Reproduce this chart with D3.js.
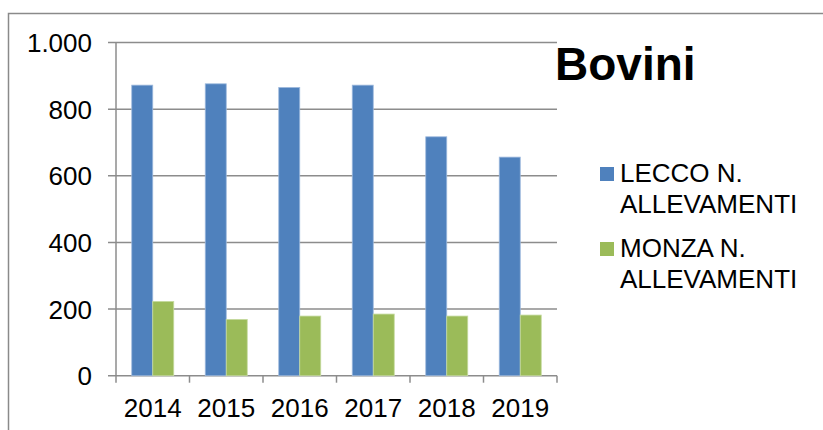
<!DOCTYPE html>
<html><head><meta charset="utf-8">
<script src="https://cdn.jsdelivr.net/npm/d3@7"></script>
<style>html,body{margin:0;padding:0;background:#fff;}svg{display:block;}</style>
</head><body>
<script>
const categories = ["2014","2015","2016","2017","2018","2019"];
const lecco = [872, 876, 865, 872, 717, 656];
const monza = [223, 169, 179, 185, 179, 182];
const seriesNames = ["LECCO N. ALLEVAMENTI","MONZA N. ALLEVAMENTI"];
const seriesLines = [["LECCO N.","ALLEVAMENTI"],["MONZA N.","ALLEVAMENTI"]];
const yTicks = [0,200,400,600,800,1000];
const title = "Bovini";

const W = 823, H = 430;
const colors = ["#4F81BD","#9BBB59"];
const edge = ["#9DB9DD","#C6DBA0"];
const font = "'Liberation Sans', Arial, sans-serif";

const svg = d3.select("body").append("svg").attr("width", W).attr("height", H);
svg.append("rect").attr("width", W).attr("height", H).attr("fill", "#fff");

// outer border (top & left visible)
svg.append("path").attr("d", `M8.5,${H} L8.5,13.5 L${W},13.5`)
  .attr("fill","none").attr("stroke","#8a8a8a").attr("stroke-width",1.5);

const x0 = 116, x1 = 557, yTop = 42.5, yBot = 375.7;
const x = d3.scaleBand().domain(categories).range([x0, x1]).paddingInner(0).paddingOuter(0);
const y = d3.scaleLinear().domain([0, 1000]).range([yBot, yTop]);
const fmt = v => d3.format(",")(v).replace(/,/g, ".");

// gridlines
svg.append("g").selectAll("line").data(yTicks).join("line")
  .attr("x1", x0 - 8).attr("x2", x1).attr("y1", d => y(d)).attr("y2", d => y(d))
  .attr("stroke", "#8c8c8c").attr("stroke-width", 1.5);

// y labels
const yAxis = d3.axisLeft(y).tickValues(yTicks).tickFormat(fmt).tickSize(0).tickPadding(0);
const ga = svg.append("g").attr("transform", `translate(${x0 - 24},0)`).call(yAxis);
ga.select(".domain").remove();
ga.selectAll("text").attr("font-family", font).attr("font-size", 26).attr("fill", "#000").attr("dy", "0.35em");

// bars
const bw = x.bandwidth() / 3.5;
const off = (x.bandwidth() - 2 * bw) / 2;
[lecco, monza].forEach((vals, si) => {
  svg.append("g").selectAll("rect").data(vals).join("rect")
    .attr("x", (d, i) => x(categories[i]) + off + si * bw)
    .attr("y", d => y(d))
    .attr("width", bw)
    .attr("height", d => yBot - y(d))
    .attr("fill", colors[si])
    .attr("stroke", edge[si]).attr("stroke-width", 0.8);
});

// y axis line
svg.append("line").attr("x1", x0).attr("x2", x0).attr("y1", yTop).attr("y2", yBot)
  .attr("stroke", "#8c8c8c").attr("stroke-width", 1.5);

// x axis
const xAxis = d3.axisBottom(x).tickSize(0).tickPadding(0);
const gx = svg.append("g").attr("transform", `translate(0,${yBot})`).call(xAxis);
gx.select(".domain").remove();
gx.selectAll("text").attr("font-family", font).attr("font-size", 26).attr("fill", "#000")
  .attr("dy", null).attr("y", 41);
// x tick marks at band edges
const edges = categories.map(c => x(c)).concat([x1]);
svg.append("g").selectAll("line").data(edges).join("line")
  .attr("x1", d => d).attr("x2", d => d).attr("y1", yBot).attr("y2", yBot + 7)
  .attr("stroke", "#8c8c8c").attr("stroke-width", 1.5);

// title
svg.append("text").attr("x", 555).attr("y", 80).text(title)
  .attr("font-family", font).attr("font-size", 46).attr("font-weight", "bold").attr("fill", "#000");

// legend
const lg = svg.append("g");
const legY = [167, 242];
seriesLines.forEach((lines, i) => {
  lg.append("rect").attr("x", 600).attr("y", legY[i]).attr("width", 14).attr("height", 14)
    .attr("fill", colors[i]);
  const t = lg.append("text").attr("font-family", font).attr("font-size", 26).attr("fill", "#000");
  lines.forEach((ln, j) => {
    t.append("tspan").attr("x", 620).attr("y", legY[i] + 14.7 + j * 31.6).text(ln);
  });
});
</script>
</body></html>
